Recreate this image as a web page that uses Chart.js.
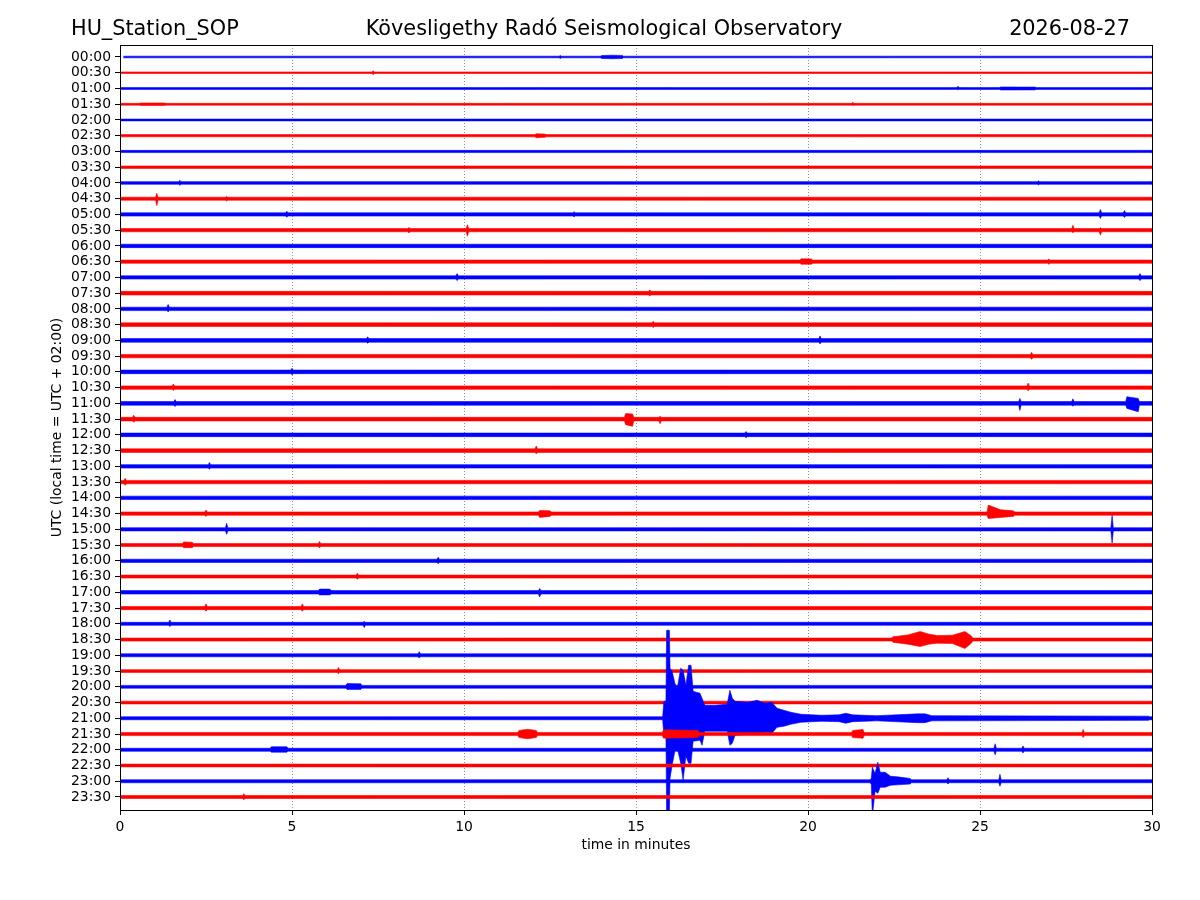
<!DOCTYPE html>
<html>
<head>
<meta charset="utf-8">
<script src="https://cdn.jsdelivr.net/npm/chart.js@4/dist/chart.umd.min.js"></script>
<style>
  html, body { margin: 0; background: #fff; }
</style>
</head>
<body>
<canvas id="helicorder" width="1200" height="900"></canvas>
<script>
const stationName = 'HU_Station_SOP';
const observatoryName = 'Kövesligethy Radó Seismological Observatory';
const plotDate = '2026-08-27';

const traceLabels = [
  '00:00', '00:30', '01:00', '01:30', '02:00', '02:30', '03:00', '03:30',
  '04:00', '04:30', '05:00', '05:30', '06:00', '06:30', '07:00', '07:30',
  '08:00', '08:30', '09:00', '09:30', '10:00', '10:30', '11:00', '11:30',
  '12:00', '12:30', '13:00', '13:30', '14:00', '14:30', '15:00', '15:30',
  '16:00', '16:30', '17:00', '17:30', '18:00', '18:30', '19:00', '19:30',
  '20:00', '20:30', '21:00', '21:30', '22:00', '22:30', '23:00', '23:30'
];
const traceColors = ['#0000ff', '#ff0000'];
const minuteTicks = [0, 5, 10, 15, 20, 25, 30];

// background noise half-width of each trace, counts
const noiseLevel = [
  0.8, 0.8, 0.9, 0.9, 0.9, 1.1, 1.1, 1.2,
  1.3, 1.5, 1.6, 1.6, 1.7, 1.6, 1.6, 1.8,
  1.7, 1.8, 1.8, 1.7, 1.8, 1.7, 1.8, 1.8,
  1.8, 1.8, 1.7, 1.7, 1.7, 1.6, 1.6, 1.5,
  1.6, 1.5, 1.7, 1.6, 1.5, 1.5, 1.5, 1.4,
  1.4, 1.4, 1.5, 1.6, 1.5, 1.4, 1.5, 1.5
];
const firstSampleMinute = 0.1;

// bursts per trace: each burst is a list of [minute, up, down] envelope peaks (counts)
const bursts = {
  '00:00': [[[12.8, 1.6, 1.5]], [[14.0, 1.4, 1.4], [14.3, 1.8, 1.8], [14.6, 1.6, 1.5]]],
  '00:30': [[[7.36, 2.0, 2.0]]],
  '01:00': [[[24.36, 2.2, 1.3]], [[25.6, 1.5, 1.5], [26.6, 1.4, 1.4]]],
  '01:30': [[[0.6, 1.3, 1.3], [1.3, 1.3, 1.3]], [[21.3, 2.0, 1.3]]],
  '02:30': [[[12.1, 2.0, 2.0], [12.35, 1.6, 1.6]]],
  '04:00': [[[1.74, 2.6, 2.4]], [[26.7, 2.2, 2.0]]],
  '04:30': [[[1.07, 5.4, 7.0]], [[3.1, 2.3, 2.3]]],
  '05:00': [[[4.85, 3.2, 2.8]], [[13.2, 2.8, 2.6]], [[28.5, 5.0, 4.0]], [[29.2, 4.0, 3.0]]],
  '05:30': [[[8.4, 2.8, 2.8]], [[10.1, 5.5, 6.0]], [[27.7, 5.0, 2.5]], [[28.5, 2.5, 5.0]]],
  '06:30': [[[19.8, 2.9, 2.6], [20.1, 2.7, 2.5]], [[27.0, 2.6, 2.6]]],
  '07:00': [[[9.8, 3.8, 3.2]], [[29.65, 3.8, 3.2]]],
  '07:30': [[[15.4, 3.3, 2.8]]],
  '08:00': [[[1.4, 4.5, 3.0]]],
  '08:30': [[[15.5, 3.3, 2.8]]],
  '09:00': [[[7.2, 3.6, 2.8]], [[20.35, 4.5, 3.5]]],
  '09:30': [[[26.5, 3.8, 3.2]]],
  '10:00': [[[5.0, 3.6, 2.8]]],
  '10:30': [[[1.55, 3.6, 2.8]], [[26.4, 4.6, 3.2]]],
  '11:00': [[[1.6, 3.8, 3.2]], [[26.16, 5.0, 7.0]], [[27.7, 4.6, 2.8]], [[29.27, 6.6, 5.0], [29.6, 5.0, 8.4]]],
  '11:30': [[[0.4, 3.8, 3.2]], [[14.7, 5.6, 5.6], [14.9, 5.2, 7.2]], [[15.7, 2.8, 4.6]]],
  '12:00': [[[18.2, 3.3, 2.8]]],
  '12:30': [[[12.1, 4.6, 3.2]]],
  '13:00': [[[2.6, 3.8, 2.8]]],
  '13:30': [[[0.15, 3.8, 3.2]]],
  '14:30': [[[2.5, 3.6, 2.8]], [[12.2, 3.2, 3.8], [12.5, 2.8, 2.8]], [[25.24, 8.5, 5.0], [25.6, 3.8, 3.8], [25.97, 2.8, 2.8]]],
  '15:00': [[[3.1, 6.0, 5.0]], [[28.84, 14.0, 14.0]]],
  '15:30': [[[1.85, 3.2, 2.6], [2.1, 2.8, 2.6]], [[5.8, 3.6, 2.8]]],
  '16:00': [[[9.25, 3.6, 2.8]]],
  '16:30': [[[6.9, 3.3, 2.8]]],
  '17:00': [[[5.8, 3.2, 2.6], [6.1, 3.2, 2.6]], [[12.2, 3.8, 4.6]]],
  '17:30': [[[2.5, 4.2, 3.2]], [[5.3, 4.2, 3.2]]],
  '18:00': [[[1.45, 3.8, 2.8]], [[7.1, 2.4, 3.8]]],
  '18:30': [[[22.47, 2.8, 2.8], [22.9, 4.6, 4.6], [23.26, 8.0, 7.0], [23.5, 5.6, 4.8], [23.75, 4.0, 3.6],
             [24.2, 4.4, 4.0], [24.56, 8.0, 9.0], [24.75, 3.6, 3.6]]],
  '19:00': [[[8.7, 3.6, 2.8]]],
  '19:30': [[[6.35, 3.6, 2.8]]],
  '20:00': [[[6.6, 3.2, 2.6], [7.0, 3.0, 2.6]]],
  '21:00': [[[15.81, 17, 17], [15.87, 17, 17], [15.89, 88, 95], [15.97, 88, 95], [15.99, 50, 60],
             [16.05, 47, 47], [16.13, 35, 33], [16.2, 30, 30], [16.3, 50, 45], [16.37, 48, 62],
             [16.45, 33, 38], [16.53, 53, 45], [16.6, 53, 45], [16.66, 27, 23], [16.86, 25, 22],
             [16.92, 20, 27], [17.0, 13, 13], [17.3, 13, 13], [17.65, 14, 13], [17.73, 28, 27],
             [17.8, 20, 25], [17.88, 17, 17], [18.26, 16, 16], [18.52, 18, 16], [18.75, 15, 14],
             [18.95, 16, 15], [19.1, 10, 9], [19.3, 8, 8], [19.5, 6, 6], [19.8, 4, 4],
             [20.4, 3.0, 3.0], [20.9, 3.4, 3.4], [21.1, 5, 5], [21.3, 3.4, 3.4], [22.0, 2.6, 2.6],
             [23.2, 4.4, 4.4], [23.4, 4.4, 4.4], [23.6, 2.6, 2.6], [29.9, 2.1, 2.1]]],
  '21:30': [[[11.6, 3.6, 3.6], [11.85, 4.8, 4.8], [12.1, 3.6, 3.6]], [[15.8, 4.2, 4.2], [16.8, 3.6, 3.6]],
            [[21.3, 3.6, 3.6], [21.6, 4.6, 4.2]], [[28.0, 4.6, 3.6]]],
  '22:00': [[[4.4, 3.0, 2.4], [4.85, 3.0, 2.4]], [[25.44, 6.0, 5.0]], [[26.25, 3.8, 3.2]]],
  '23:00': [[[21.84, 3, 3], [21.87, 14, 35], [21.95, 8, 10], [22.03, 19, 12], [22.1, 9, 6],
             [22.24, 9, 6], [22.4, 5, 4], [22.6, 4.4, 3.6], [22.97, 2.8, 2.8]], [[24.07, 3.6, 2.8]], [[25.58, 7, 5]]],
  '23:30': [[[3.6, 3.3, 2.8]]]
};

const GAIN = 1 / 15.74;   // counts -> trace spacing
const BURST_EDGE = 0.035; // minutes of ramp before/after each burst

function envelope(label, i) {
  const base = noiseLevel[i];
  const pts = [[i === 0 ? firstSampleMinute : 0, 0, 0]];
  (bursts[label] || []).forEach(b => {
    pts.push([b[0][0] - BURST_EDGE, 0, 0]);
    b.forEach(p => pts.push(p));
    pts.push([b[b.length - 1][0] + BURST_EDGE, 0, 0]);
  });
  pts.push([30, 0, 0]);
  const upper = pts.map(p => ({ x: Math.min(p[0], 30), y: i - Math.max(base, p[1]) * GAIN }));
  const lower = pts.map(p => ({ x: Math.min(p[0], 30), y: i + Math.max(base, p[2]) * GAIN })).reverse();
  return upper.concat(lower);
}

const datasets = traceLabels.map((label, i) => ({
  label: label,
  data: envelope(label, i),
  borderColor: traceColors[i % 2],
  backgroundColor: traceColors[i % 2],
  borderWidth: 0.6,
  pointRadius: 0,
  tension: 0,
  fill: 'shape',
  order: traceLabels.length - i
}));

const headerPlugin = {
  id: 'header',
  afterDraw(chart) {
    const ctx = chart.ctx;
    const a = chart.chartArea;
    ctx.save();
    // axes frame
    ctx.strokeStyle = '#000';
    ctx.lineWidth = 1;
    ctx.strokeRect(a.left + 0.5, a.top + 0.5, a.right - a.left, a.bottom - a.top);
    // titles
    ctx.fillStyle = '#000';
    ctx.font = '20.8px "DejaVu Sans"';
    ctx.textBaseline = 'alphabetic';
    ctx.textAlign = 'left';
    ctx.fillText(stationName, 71, 35);
    ctx.textAlign = 'center';
    ctx.fillText(observatoryName, 604, 35);
    ctx.textAlign = 'right';
    ctx.fillText(plotDate, 1130, 35);
    ctx.restore();
  }
};

Chart.defaults.font.family = '"DejaVu Sans", sans-serif';
Chart.defaults.font.size = 13.9;
Chart.defaults.color = '#000';

new Chart(document.getElementById('helicorder'), {
  type: 'line',
  data: { datasets: datasets },
  options: {
    responsive: false,
    devicePixelRatio: 1,
    animation: false,
    events: [],
    layout: { padding: { top: 45, right: 48, bottom: 0, left: 0 } },
    plugins: {
      legend: { display: false },
      tooltip: { enabled: false },
      title: { display: false }
    },
    scales: {
      x: {
        type: 'linear',
        min: 0,
        max: 30,
        afterBuildTicks: axis => { axis.ticks = minuteTicks.map(v => ({ value: v })); },
        afterFit: axis => { axis.height = 90; },
        ticks: { padding: 4, maxRotation: 0, autoSkip: false },
        grid: {
          color: c => (c.tick && (c.tick.value === 0 || c.tick.value === 30)) ? 'rgba(0,0,0,0)' : 'rgba(0,0,0,0.55)',
          lineWidth: 0.8,
          drawTicks: true,
          tickLength: 5,
          tickColor: '#000',
          tickWidth: 1
        },
        border: { display: false, dash: [1, 2] },
        title: { display: true, text: 'time in minutes', padding: { top: 0, bottom: 46.7 } }
      },
      y: {
        type: 'linear',
        reverse: true,
        min: -0.762,
        max: 47.826,
        afterBuildTicks: axis => { axis.ticks = traceLabels.map((_, i) => ({ value: i })); },
        afterFit: axis => { axis.width = 120; },
        ticks: {
          padding: 4,
          autoSkip: false,
          callback: v => traceLabels[v]
        },
        grid: {
          drawOnChartArea: false,
          drawTicks: true,
          tickLength: 5,
          tickColor: '#000',
          tickWidth: 1
        },
        border: { display: false },
        title: { display: true, text: 'UTC (local time = UTC + 02:00)', padding: { top: 48.7, bottom: 0 } }
      }
    }
  },
  plugins: [headerPlugin]
});
</script>
</body>
</html>
